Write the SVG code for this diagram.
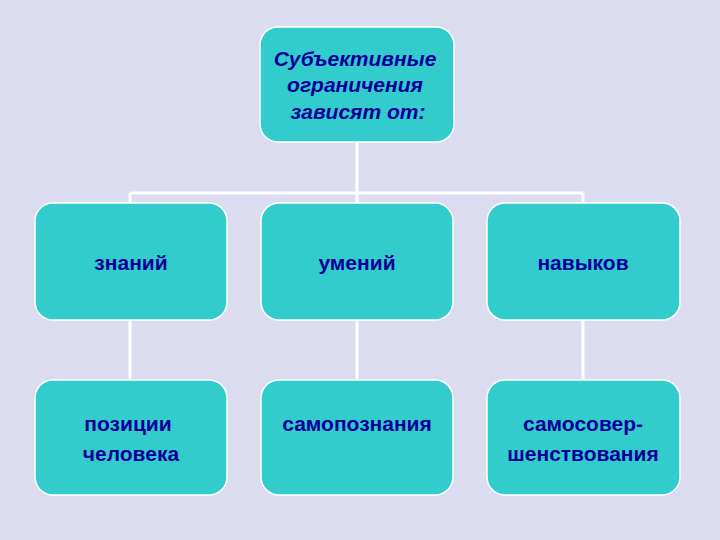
<svg xmlns="http://www.w3.org/2000/svg" width="720" height="540" viewBox="0 0 720 540">
<style>
.b{fill:#33CCCC;stroke:#ffffff;stroke-width:1.5}
.t{font-family:"Liberation Sans",Arial,sans-serif;font-weight:bold;font-size:21px;fill:#000099;text-anchor:middle}
.ti{font-style:italic}
.c{stroke:#ffffff;stroke-width:3;fill:none}
</style>
<rect width="720" height="540" fill="#dcdcf0"/>
<g id="connectors">
<path class="c" d="M357 142V193M130 193H583M130 193V203M357 193V203M583 193V203M130 320V380M357 320V380M583 320V380"/>
</g>
<g id="top"><rect class="b" x="260" y="27" width="194" height="115" rx="18"/>
<text class="t ti" x="355" y="66">Субъективные</text><text class="t ti" x="355" y="92">ограничения</text><text class="t ti" x="358" y="119">зависят от:</text></g>
<g id="n1"><rect class="b" x="35" y="203" width="192" height="117" rx="18"/><text class="t" x="131" y="270">знаний</text></g>
<g id="n2"><rect class="b" x="261" y="203" width="192" height="117" rx="18"/><text class="t" x="357" y="270">умений</text></g>
<g id="n3"><rect class="b" x="487" y="203" width="193" height="117" rx="18"/><text class="t" x="583" y="270">навыков</text></g>
<g id="n4"><rect class="b" x="35" y="380" width="192" height="115" rx="18"/><text class="t" x="128" y="431">позиции</text><text class="t" x="131" y="461">человека</text></g>
<g id="n5"><rect class="b" x="261" y="380" width="192" height="115" rx="18"/><text class="t" x="357" y="431">самопознания</text></g>
<g id="n6"><rect class="b" x="487" y="380" width="193" height="115" rx="18"/><text class="t" x="583" y="431">самосовер-</text><text class="t" x="583" y="461">шенствования</text></g>
</svg>
